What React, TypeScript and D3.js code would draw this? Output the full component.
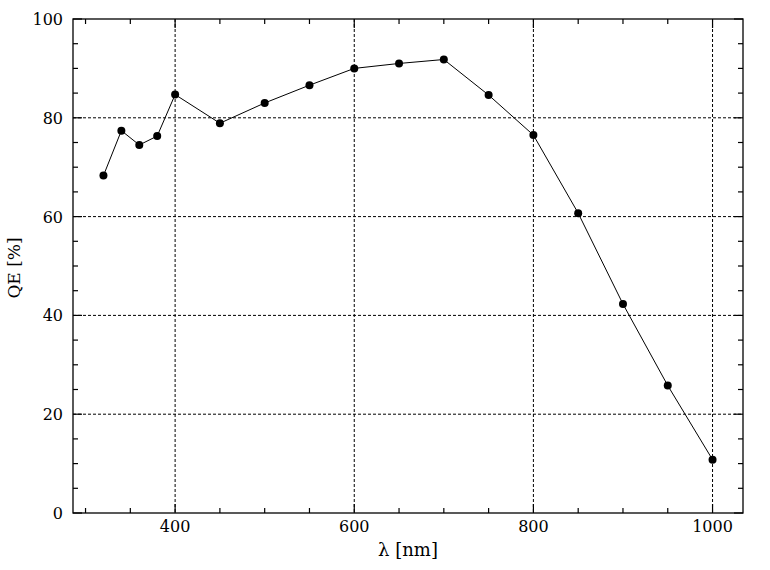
import { useEffect, useRef } from 'react';
import * as d3 from 'd3';

const wavelengths = [320, 340, 360, 380, 400, 450, 500, 550, 600, 650, 700, 750, 800, 850, 900, 950, 1000];
const qe = [68.3, 77.4, 74.5, 76.3, 84.7, 78.9, 83.0, 86.6, 90.0, 91.0, 91.8, 84.6, 76.5, 60.7, 42.3, 25.8, 10.8];
const xMajor = [400, 600, 800, 1000];
const yMajor = [0, 20, 40, 60, 80, 100];

const W = 770;
const H = 570;
const MARGIN = { top: 19, right: 27, bottom: 57, left: 73 };
const FONT = "'DejaVu Serif', 'Liberation Serif', serif";

export default function App() {
  const ref = useRef<SVGSVGElement>(null);

  useEffect(() => {
    document.body.style.margin = '0';
    const svg = d3.select(ref.current);
    svg.selectAll('*').remove();

    const innerW = W - MARGIN.left - MARGIN.right;
    const innerH = H - MARGIN.top - MARGIN.bottom;

    const x = d3.scaleLinear().domain([286, 1034]).range([0, innerW]);
    const y = d3.scaleLinear().domain([0, 100]).range([innerH, 0]);

    const g = svg.append('g').attr('transform', `translate(${MARGIN.left},${MARGIN.top})`);

    // grid
    g.selectAll('.gx')
      .data(xMajor)
      .enter()
      .append('line')
      .attr('x1', (d) => x(d)).attr('x2', (d) => x(d))
      .attr('y1', 0).attr('y2', innerH)
      .attr('stroke', '#000')
      .attr('stroke-width', 1)
      .attr('stroke-dasharray', '3,2');
    g.selectAll('.gy')
      .data(yMajor.filter((v) => v > 0 && v < 100))
      .enter()
      .append('line')
      .attr('x1', 0).attr('x2', innerW)
      .attr('y1', (d) => y(d)).attr('y2', (d) => y(d))
      .attr('stroke', '#000')
      .attr('stroke-width', 1)
      .attr('stroke-dasharray', '3,2');

    // ticks on all four sides
    const xMinor = d3.range(300, 1034, 50);
    const yMinor = d3.range(0, 101, 5);
    const tickLen = (isMajor: boolean) => (isMajor ? 9 : 5);

    for (const v of xMinor) {
      const len = tickLen(v % 200 === 0);
      g.append('line').attr('x1', x(v)).attr('x2', x(v)).attr('y1', innerH).attr('y2', innerH - len)
        .attr('stroke', '#000').attr('stroke-width', 1.2);
      g.append('line').attr('x1', x(v)).attr('x2', x(v)).attr('y1', 0).attr('y2', len)
        .attr('stroke', '#000').attr('stroke-width', 1.2);
    }
    for (const v of yMinor) {
      const len = tickLen(v % 20 === 0);
      g.append('line').attr('x1', 0).attr('x2', len).attr('y1', y(v)).attr('y2', y(v))
        .attr('stroke', '#000').attr('stroke-width', 1.2);
      g.append('line').attr('x1', innerW).attr('x2', innerW - len).attr('y1', y(v)).attr('y2', y(v))
        .attr('stroke', '#000').attr('stroke-width', 1.2);
    }

    // frame
    g.append('rect')
      .attr('x', 0).attr('y', 0)
      .attr('width', innerW).attr('height', innerH)
      .attr('fill', 'none')
      .attr('stroke', '#000')
      .attr('stroke-width', 1.3);

    // tick labels
    g.selectAll('.xl')
      .data(xMajor)
      .enter()
      .append('text')
      .attr('x', (d) => x(d))
      .attr('y', innerH + 19)
      .attr('text-anchor', 'middle')
      .attr('font-family', FONT)
      .attr('font-size', 16)
      .text((d) => d);
    g.selectAll('.yl')
      .data(yMajor)
      .enter()
      .append('text')
      .attr('x', -10)
      .attr('y', (d) => y(d) + 6)
      .attr('text-anchor', 'end')
      .attr('font-family', FONT)
      .attr('font-size', 16)
      .text((d) => d);

    // axis titles
    g.append('text')
      .attr('x', innerW / 2)
      .attr('y', innerH + 43)
      .attr('text-anchor', 'middle')
      .attr('font-family', FONT)
      .attr('font-size', 18)
      .text('λ [nm]');
    g.append('text')
      .attr('transform', `translate(${-MARGIN.left + 20},${innerH / 2 + 2}) rotate(-90)`)
      .attr('text-anchor', 'middle')
      .attr('font-family', FONT)
      .attr('font-size', 17)
      .text('QE [%]');

    // data
    const pts = wavelengths.map((w, i) => [w, qe[i]] as [number, number]);
    const line = d3.line<[number, number]>()
      .x((d) => x(d[0]))
      .y((d) => y(d[1]));
    g.append('path')
      .datum(pts)
      .attr('d', line)
      .attr('fill', 'none')
      .attr('stroke', '#000')
      .attr('stroke-width', 1);
    g.selectAll('.pt')
      .data(pts)
      .enter()
      .append('circle')
      .attr('cx', (d) => x(d[0]))
      .attr('cy', (d) => y(d[1]))
      .attr('r', 4)
      .attr('fill', '#000');
  }, []);

  return <svg ref={ref} width={W} height={H} style={{ display: 'block', background: '#fff' }} />;
}
